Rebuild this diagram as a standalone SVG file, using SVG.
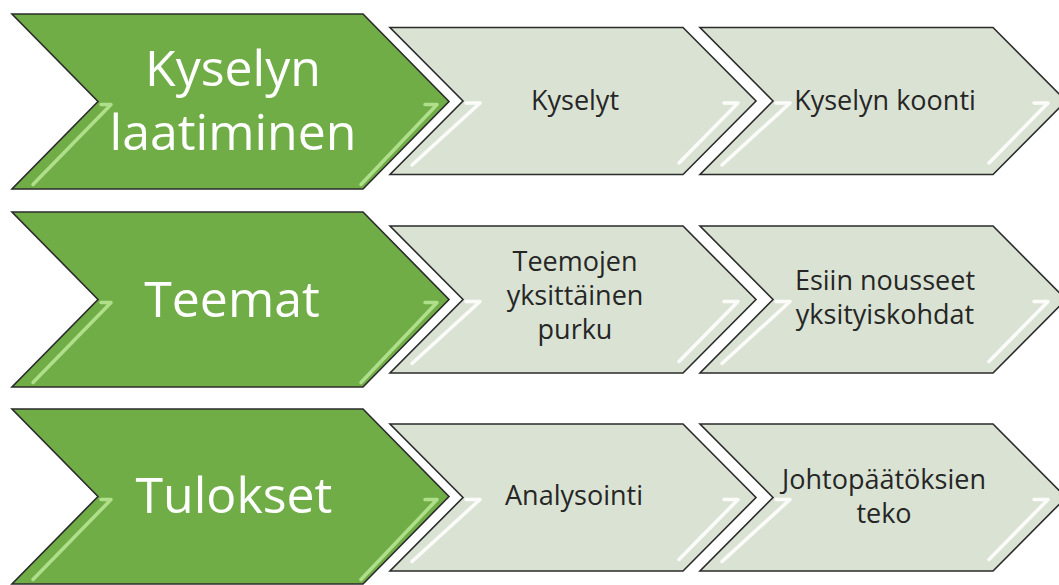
<svg xmlns="http://www.w3.org/2000/svg" xmlns:xlink="http://www.w3.org/1999/xlink" width="1059" height="585" viewBox="0 0 1059 585">
  <style>
    .big { fill: #70AD47; stroke: #2b2b2b; stroke-width: 1.6; stroke-linejoin: miter; }
    .small { fill: #DAE3D3; stroke: #2b2b2b; stroke-width: 1.6; stroke-linejoin: miter; }
    .hlBig { fill: none; stroke: #B4E28F; stroke-width: 3.5; stroke-linecap: round; stroke-linejoin: round; opacity: 0.95; }
    .hlSmall { fill: none; stroke: #FFFFFF; stroke-width: 3.5; stroke-linecap: round; stroke-linejoin: round; opacity: 0.9; }
    .bigText { font-family: "Open Sans", "Noto Sans", sans-serif; font-size: 50px; fill: #FFFFFF; text-anchor: middle; }
    .smallText { font-family: "Open Sans", "Noto Sans", sans-serif; font-size: 27px; fill: #262626; text-anchor: middle; }
  </style>
  <defs>
    <filter id="soft" x="-10%" y="-10%" width="120%" height="120%">
      <feGaussianBlur stdDeviation="0.7"/>
    </filter>
    <g id="bigChevron">
      <polygon class="big" points="12,-87.5 363,-87.5 449,0 363,87.5 12,87.5 98,0"/>
      <path class="hlBig" filter="url(#soft)" d="M101,3 L111,3 L33,83"/>
      <path class="hlBig" filter="url(#soft)" d="M425,3 L437,3 L361,83"/>
    </g>
    <g id="smallChevron">
      <polygon class="small" points="0,-73.5 293,-73.5 366,0 293,73.5 0,73.5 73,0"/>
      <path class="hlSmall" filter="url(#soft)" d="M76,2 L90,2 L22,64"/>
      <path class="hlSmall" filter="url(#soft)" d="M334,2 L348,2 L289,62"/>
    </g>
  </defs>

  <g id="connectors"/>

  <!-- Row 1 -->
  <g id="node-kyselyn-laatiminen">
    <use xlink:href="#bigChevron" transform="translate(0,101.5)"/>
    <text class="bigText" x="233" y="86">Kyselyn</text>
    <text class="bigText" x="233" y="150">laatiminen</text>
  </g>
  <g id="node-kyselyt">
    <use xlink:href="#smallChevron" transform="translate(390,101)"/>
    <text class="smallText" x="575" y="110">Kyselyt</text>
  </g>
  <g id="node-kyselyn-koonti">
    <use xlink:href="#smallChevron" transform="translate(700,101)"/>
    <text class="smallText" x="885" y="110">Kyselyn koonti</text>
  </g>

  <!-- Row 2 -->
  <g id="node-teemat">
    <use xlink:href="#bigChevron" transform="translate(0,299.5)"/>
    <text class="bigText" x="232" y="317">Teemat</text>
  </g>
  <g id="node-teemojen-purku">
    <use xlink:href="#smallChevron" transform="translate(390,299.5)"/>
    <text class="smallText" x="575" y="271">Teemojen</text>
    <text class="smallText" x="575" y="305">yksittäinen</text>
    <text class="smallText" x="575" y="339">purku</text>
  </g>
  <g id="node-esiin-nousseet">
    <use xlink:href="#smallChevron" transform="translate(700,299.5)"/>
    <text class="smallText" x="885" y="289.5">Esiin nousseet</text>
    <text class="smallText" x="885" y="323.5">yksityiskohdat</text>
  </g>

  <!-- Row 3 -->
  <g id="node-tulokset">
    <use xlink:href="#bigChevron" transform="translate(0,496.5)"/>
    <text class="bigText" x="234" y="513">Tulokset</text>
  </g>
  <g id="node-analysointi">
    <use xlink:href="#smallChevron" transform="translate(390,497.5)"/>
    <text class="smallText" x="574" y="505">Analysointi</text>
  </g>
  <g id="node-johtopaatoksien-teko">
    <use xlink:href="#smallChevron" transform="translate(700,497.5)"/>
    <text class="smallText" x="884" y="489">Johtopäätöksien</text>
    <text class="smallText" x="884" y="523">teko</text>
  </g>
</svg>
